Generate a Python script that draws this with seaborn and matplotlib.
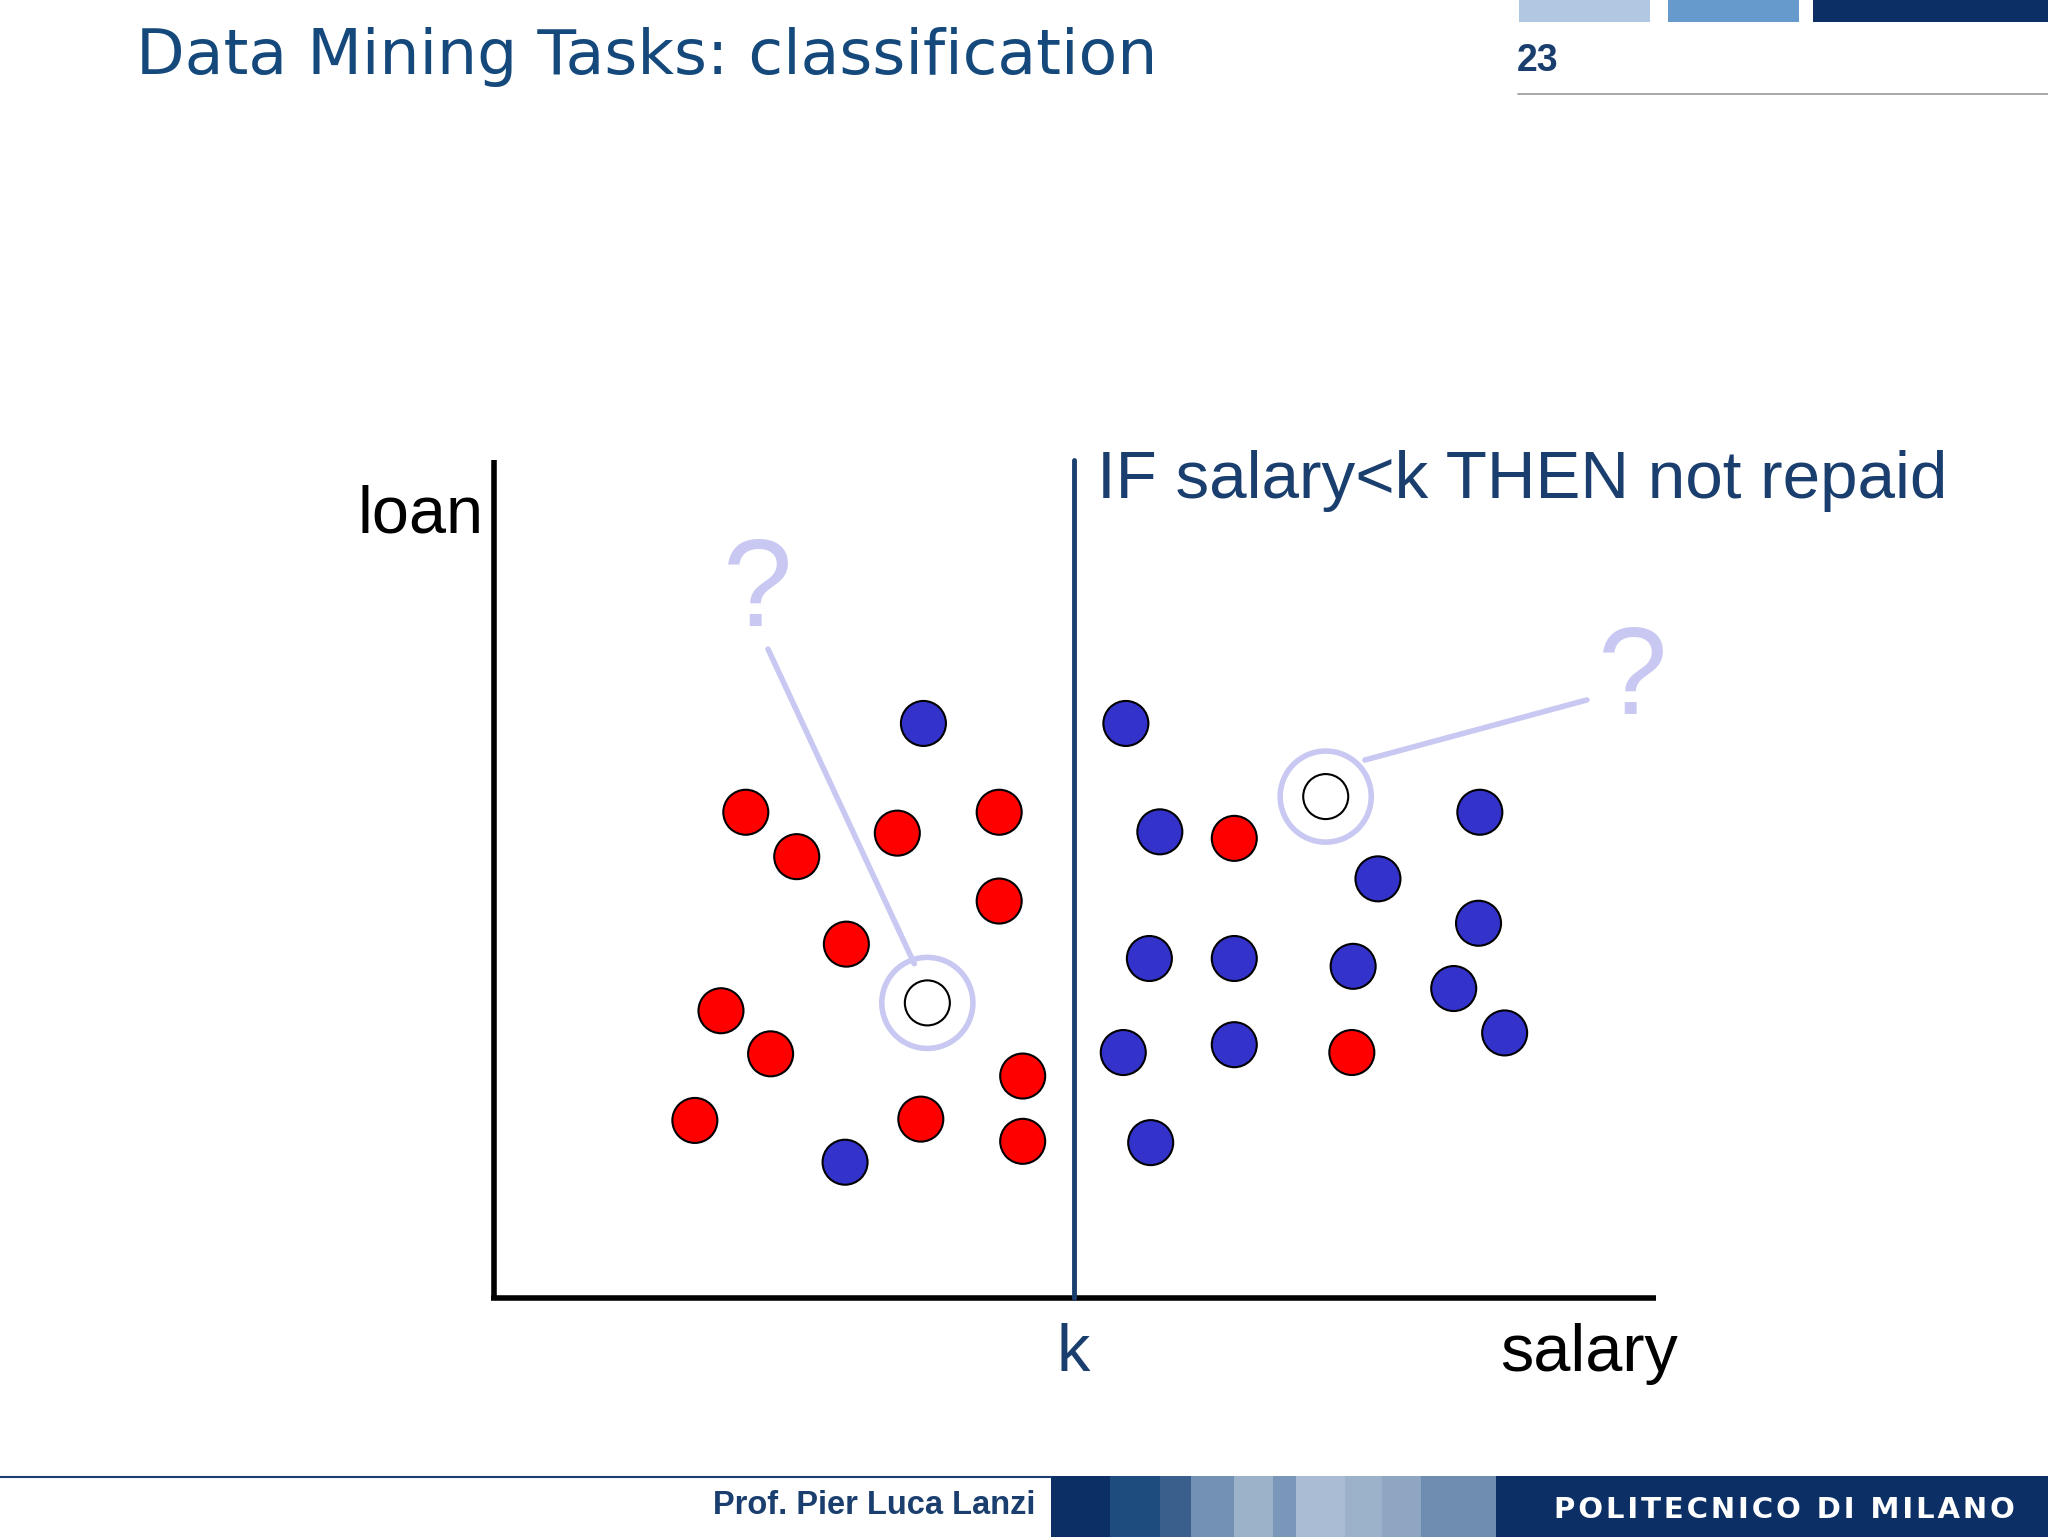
import matplotlib
matplotlib.use("Agg")
import matplotlib.pyplot as plt
import seaborn as sns
import pandas as pd
from matplotlib.patches import Rectangle

sns.set_theme(style="white")
plt.rcParams['font.family'] = ['Liberation Sans', 'DejaVu Sans']

# data in slide coordinates (salary -> x, loan -> y, y measured downward)
red_x = [571, 610, 687, 765, 765, 648, 552, 590, 532, 705, 783, 783, 945, 1035]
red_y = [622, 656, 638, 622, 690, 723, 774, 807, 858, 857, 824, 874, 642, 806]
blue_x = [707, 862, 888, 1055, 1133, 1132, 880, 945, 1036, 1113, 1152, 860, 945, 881, 647]
blue_y = [554, 554, 637, 673, 622, 707, 734, 734, 740, 757, 791, 806, 800, 875, 890]
unk_x = [710, 1015]
unk_y = [768, 610]
k_value = 822

df = pd.DataFrame({
    "salary": red_x + blue_x + unk_x,
    "loan": red_y + blue_y + unk_y,
    "cls": ["not repaid"] * len(red_x) + ["repaid"] * len(blue_x) + ["unknown"] * len(unk_x),
})

fig = plt.figure(figsize=(20.48, 15.37), dpi=100)
ax = fig.add_axes([0, 0, 1, 1])

navy = "#1a3f6e"
dark = "#0c2f66"
lav = "#c8c8f2"

# header
ax.text(104, 44, "Data Mining Tasks: classification", fontsize=45.5, color="#15497c",
        va="center", ha="left", family="DejaVu Sans")
for x0, x1, c in [(1163, 1263, "#b0c8e2"), (1277, 1377, "#6699cc"), (1388, 1568, dark)]:
    ax.add_patch(Rectangle((x0, 0), x1 - x0, 17, color=c, lw=0))
ax.text(1161, 47, "23", fontsize=27, fontweight="bold", color=navy, va="center", ha="left")
ax.plot([1162, 1568], [72, 72], color="#9a9a9a", lw=1.2)

# footer
ax.plot([0, 805], [1131, 1131], color=navy, lw=1.5)
segs = [(805, 850, "#0c2f66"), (850, 888, "#1f4c7e"), (888, 912, "#3a5f8c"), (912, 945, "#7391b4"),
        (945, 975, "#9bb2c8"), (975, 992, "#7a96b8"), (992, 1030, "#a9bcd4"), (1030, 1058, "#9cb1ca"),
        (1058, 1088, "#8ea6c2"), (1088, 1145, "#6f8db0"), (1145, 1568, "#0c2f66")]
for x0, x1, c in segs:
    ax.add_patch(Rectangle((x0, 1130), x1 - x0, 47, color=c, lw=0))
ax.text(793, 1153, "Prof. Pier Luca Lanzi", fontsize=23.5, fontweight="bold", color=navy, ha="right", va="center")
ax.text(1190, 1156, "\u200a".join("POLITECNICO DI MILANO"), fontsize=21, fontweight="bold", color="white",
        ha="left", va="center", family="DejaVu Sans")

# axes of the chart
ax.plot([378, 378], [352, 995], color="black", lw=4, solid_capstyle="butt")
ax.plot([376, 1268], [994, 994], color="black", lw=4, solid_capstyle="butt")
ax.plot([k_value, k_value], [352, 994], color=navy, lw=3.5)
ax.text(370, 395, "loan", fontsize=48, color="black", ha="right", va="center")
ax.text(1285, 1037, "salary", fontsize=48, color="black", ha="right", va="center")
ax.text(k_value, 1037, "k", fontsize=48, color=navy, ha="center", va="center")
ax.text(840, 368, "IF salary<k THEN not repaid", fontsize=48.5, color=navy, ha="left", va="center")

# question marks and halos
ax.plot([700, 588], [738, 497], color=lav, lw=4)
ax.plot([1045, 1215], [582, 536], color=lav, lw=4)
ax.text(580, 455, "?", fontsize=90, color=lav, ha="center", va="center")
ax.text(1250, 522, "?", fontsize=90, color=lav, ha="center", va="center")
ax.scatter(unk_x, unk_y, s=4300, facecolor="none", edgecolor=lav, linewidth=4, zorder=3)

sns.scatterplot(data=df, x="salary", y="loan", hue="cls",
                palette={"not repaid": "#ff0000", "repaid": "#3333cc", "unknown": "white"},
                s=1050, edgecolor="black", linewidth=1.5, legend=False, ax=ax, zorder=4)
ax.set_xlim(0, 1568)
ax.set_ylim(1177, 0)
ax.axis("off")

fig.savefig("out.png", dpi=100)
